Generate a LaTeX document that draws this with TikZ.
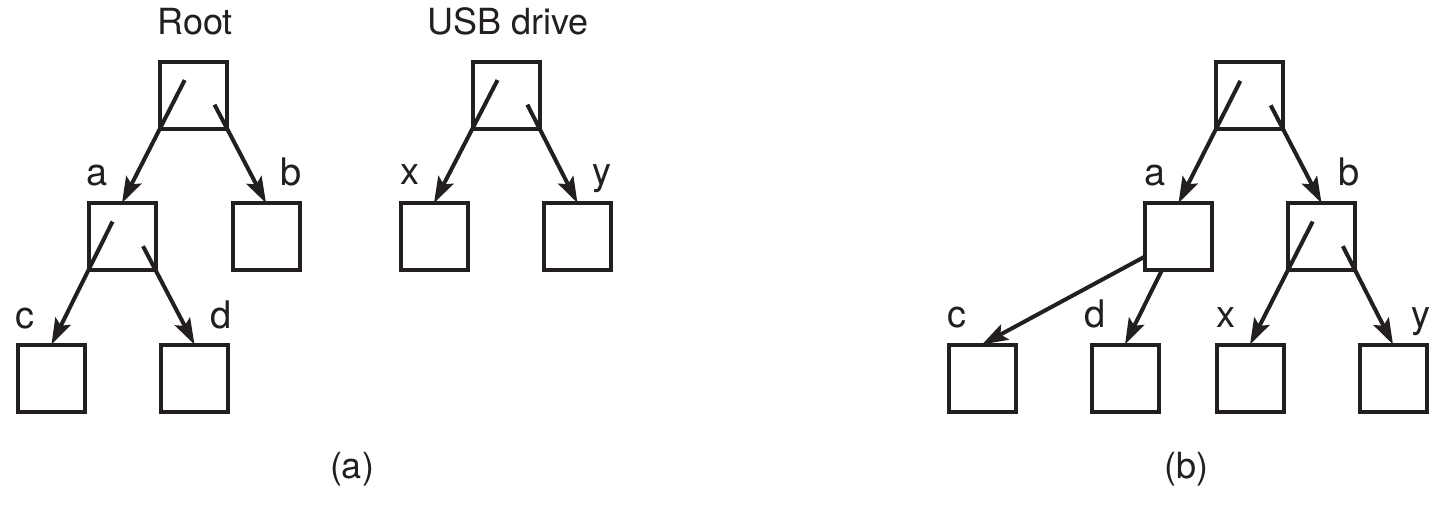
\documentclass[tikz,border=0pt]{standalone}
\usepackage{fontspec}
\setmainfont{TeX Gyre Heros}
\usetikzlibrary{arrows.meta,calc}
\definecolor{ink}{RGB}{35,31,32}
\begin{document}
\begin{tikzpicture}[x=1pt,y=-1pt,
  box/.style={draw=ink,line width=4pt,minimum size=67pt,inner sep=0pt,outer sep=0pt},
  arr/.style={draw=ink,line width=4pt,-{Stealth[length=26pt,width=17pt,inset=5pt]}},
  lab/.style={text=ink,font=\fontsize{38}{42}\selectfont,anchor=base,inner sep=0pt},
  ttl/.style={text=ink,font=\fontsize{36}{40}\selectfont,anchor=base,inner sep=0pt}]
\useasboundingbox (0,0) rectangle (1436,504);
% ---- panel (a)
\node[box] (root) at (193.5,95) {};
\node[box] (a) at (122,236.5) {};
\node[box] (b) at (266,236.5) {};
\node[box] (c) at (51.5,378) {};
\node[box] (d) at (194.5,378) {};
\node[box] (usb) at (506,95) {};
\node[box] (x) at (434,236.5) {};
\node[box] (y) at (577.5,236.5) {};
\node[ttl] (lroot) at (195,34) {Root};
\node[ttl] (lusb) at (508,34) {USB drive};
\node[lab] (la) at (97,185) {a};
\node[lab] (lb) at (291,185) {b};
\node[lab] (lc) at (25,328) {c};
\node[lab] (ld) at (221,328) {d};
\node[lab] (lx) at (410,184) {x};
\node[lab] (ly) at (602,184) {y};
\node[ttl] (capa) at (352,478) {(a)};
\draw[arr] ($(root.south west)!-0.65!(a.north)$) -- (a.north);
\draw[arr] ($(root.south east)!-0.32!(b.north)$) -- (b.north);
\draw[arr] ($(a.south west)!-0.65!(c.north)$) -- (c.north);
\draw[arr] ($(a.south east)!-0.32!(d.north)$) -- (d.north);
\draw[arr] ($(usb.south west)!-0.65!(x.north)$) -- (x.north);
\draw[arr] ($(usb.south east)!-0.32!(y.north)$) -- (y.north);
% ---- panel (b)
\node[box] (top) at (1249.5,95.5) {};
\node[box] (a2) at (1178.5,236.5) {};
\node[box] (b2) at (1321.5,236.5) {};
\node[box] (c2) at (982,378) {};
\node[box] (d2) at (1125,378) {};
\node[box] (x2) at (1250,378) {};
\node[box] (y2) at (1393,378) {};
\node[lab] (la2) at (1155,185) {a};
\node[lab] (lb2) at (1349,185) {b};
\node[lab] (lc2) at (957,327) {c};
\node[lab] (ld2) at (1095,327) {d};
\node[lab] (lx2) at (1226,327) {x};
\node[lab] (ly2) at (1421,327) {y};
\node[ttl] (capb) at (1186,478) {(b)};
\draw[arr] ($(top.south west)!-0.65!(a2.north)$) -- (a2.north);
\draw[arr] ($(top.south east)!-0.32!(b2.north)$) -- (b2.north);
\draw[arr] ($(a2.west)+(0,20)$) -- (c2.north);
\draw[arr] ($(a2.south west)+(17,0)$) -- (d2.north);
\draw[arr] ($(b2.south west)!-0.65!(x2.north)$) -- (x2.north);
\draw[arr] ($(b2.south east)!-0.32!(y2.north)$) -- (y2.north);
\end{tikzpicture}
\end{document}
